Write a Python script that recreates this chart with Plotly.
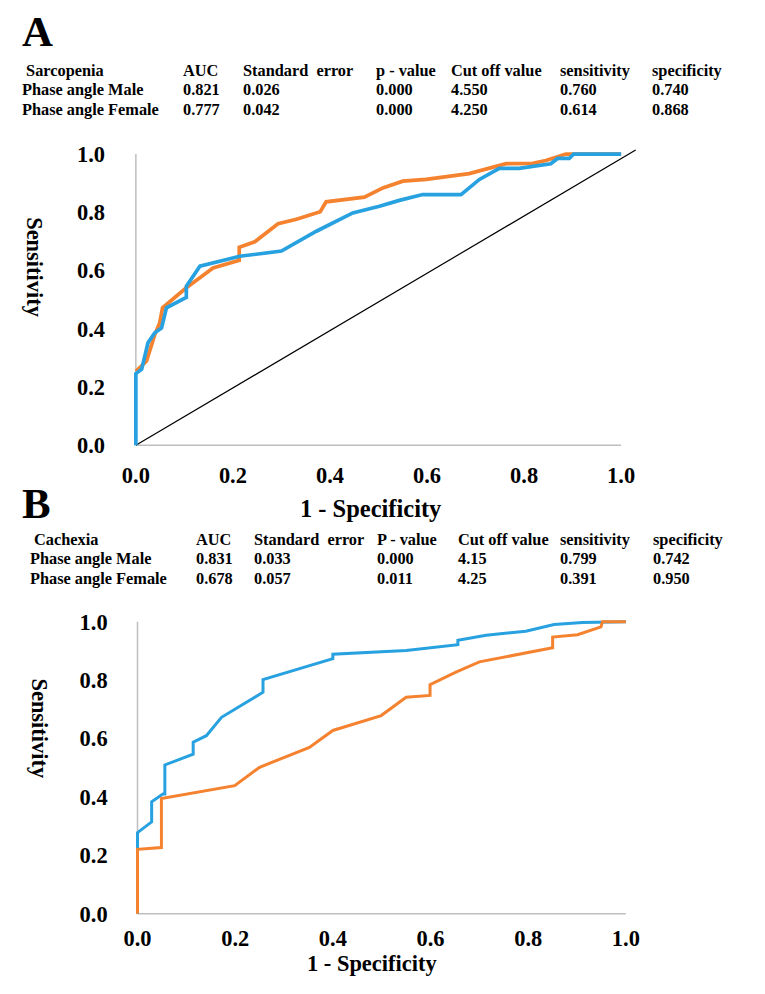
import plotly.graph_objects as go

# ---------------- data ----------------
# Panel A (Sarcopenia) ROC curves
a_male_x = [0, 0, 0.012, 0.025, 0.039, 0.053, 0.063, 0.104, 0.104, 0.132, 0.214, 0.300, 0.372, 0.447, 0.502, 0.543,
            0.591, 0.670, 0.708, 0.749, 0.790, 0.855, 0.869, 0.893, 0.902, 1.0]
a_male_y = [0, 0.246, 0.261, 0.352, 0.386, 0.403, 0.472, 0.508, 0.546, 0.615, 0.649, 0.667, 0.735, 0.798, 0.821, 0.841,
            0.861, 0.861, 0.913, 0.951, 0.951, 0.967, 0.985, 0.985, 1.0, 1.0]
a_female_x = [0, 0.022, 0.039, 0.049, 0.055, 0.063, 0.104, 0.132, 0.159, 0.213, 0.213, 0.245, 0.293, 0.331, 0.380,
              0.392, 0.471, 0.509, 0.550, 0.598, 0.687, 0.763, 0.818, 0.845, 0.886, 1.0]
a_female_y = [0.254, 0.289, 0.380, 0.420, 0.472, 0.483, 0.541, 0.575, 0.609, 0.635, 0.680, 0.699, 0.761, 0.776, 0.802,
              0.836, 0.852, 0.884, 0.907, 0.913, 0.933, 0.967, 0.968, 0.978, 1.0, 1.0]
a_ref_x = [0, 1.03]
a_ref_y = [0, 1.014]

# Panel B (Cachexia) ROC curves
b_male_x = [0, 0, 0.029, 0.029, 0.052, 0.056, 0.056, 0.114, 0.114, 0.141, 0.172, 0.257, 0.257, 0.400, 0.400, 0.550,
            0.656, 0.656, 0.714, 0.795, 0.853, 0.911, 1.0]
b_male_y = [0, 0.278, 0.315, 0.384, 0.410, 0.410, 0.510, 0.547, 0.588, 0.610, 0.673, 0.759, 0.802, 0.874, 0.889, 0.902,
            0.922, 0.937, 0.954, 0.968, 0.991, 0.998, 1.0]
b_female_x = [0, 0, 0.049, 0.049, 0.199, 0.250, 0.352, 0.400, 0.499, 0.550, 0.599, 0.599, 0.652, 0.700, 0.850, 0.850,
              0.901, 0.949, 0.952, 1.0]
b_female_y = [0, 0.221, 0.227, 0.395, 0.439, 0.502, 0.570, 0.628, 0.679, 0.742, 0.748, 0.785, 0.828, 0.863, 0.911,
              0.948, 0.956, 0.983, 1.0, 1.0]

tick_vals = [0, 0.2, 0.4, 0.6, 0.8, 1.0]
tick_text = ["0.0", "0.2", "0.4", "0.6", "0.8", "1.0"]

# Tables
a_header = [" Sarcopenia", "AUC", "Standard  error", "p - value", "Cut off value", "sensitivity", "specificity"]
a_row_male = ["Phase angle Male", "0.821", "0.026", "0.000", "4.550", "0.760", "0.740"]
a_row_female = ["Phase angle Female", "0.777", "0.042", "0.000", "4.250", "0.614", "0.868"]

b_header = [" Cachexia", "AUC", "Standard  error", "P - value", "Cut off value", "sensitivity", "specificity"]
b_row_male = ["Phase angle Male", "0.831", "0.033", "0.000", "4.15", "0.799", "0.742"]
b_row_female = ["Phase angle Female", "0.678", "0.057", "0.011", "4.25", "0.391", "0.950"]

# ---------------- style ----------------
W, H = 749, 978
OFF, SC = 16.0, 0.98         # observed page offset / scale of the rendered page
ORANGE = "#F5822F"
BLUE = "#27A1DF"
AXIS_GREY = "#BFBFBF"
SERIF = "Liberation Serif"


def fx(px):
    return ((px - OFF) / SC) / W


def fy(py):
    return 1 - ((py - OFF) / SC) / H


def fs(size):
    return size / SC


a_cols_px = [21, 182, 242, 375, 451, 560, 652]
b_cols_px = [29, 195, 253, 377, 458, 560, 653]
a_rows_py = [69, 88, 108]
b_rows_py = [538, 557, 577]

fig = go.Figure()

# Panel A traces
fig.add_trace(go.Scatter(x=a_ref_x, y=a_ref_y, mode="lines", line=dict(color="black", width=1.2),
                         xaxis="x", yaxis="y", showlegend=False, hoverinfo="skip"))
fig.add_trace(go.Scatter(x=a_female_x, y=a_female_y, mode="lines", name="Phase angle Female",
                         line=dict(color=ORANGE, width=3.7), xaxis="x", yaxis="y", showlegend=False))
fig.add_trace(go.Scatter(x=a_male_x, y=a_male_y, mode="lines", name="Phase angle Male",
                         line=dict(color=BLUE, width=3.7), xaxis="x", yaxis="y", showlegend=False))

# Panel B traces
fig.add_trace(go.Scatter(x=b_male_x, y=b_male_y, mode="lines", name="Phase angle Male",
                         line=dict(color=BLUE, width=3), xaxis="x2", yaxis="y2", showlegend=False))
fig.add_trace(go.Scatter(x=b_female_x, y=b_female_y, mode="lines", name="Phase angle Female",
                         line=dict(color=ORANGE, width=3), xaxis="x2", yaxis="y2", showlegend=False))

tickfont = dict(family=SERIF, size=fs(22), color="black", weight="bold")

axis_common = dict(showgrid=False, zeroline=False, showline=False, tickvals=tick_vals, ticktext=tick_text,
                   tickfont=tickfont, ticks="", fixedrange=True)

fig.update_layout(
    width=W, height=H,
    margin=dict(l=0, r=0, t=0, b=0),
    paper_bgcolor="white", plot_bgcolor="white",
    xaxis=dict(domain=[fx(130.2), fx(641.4)], range=[-0.012, 1.04], anchor="y",
               ticklabelstandoff=11, **axis_common),
    yaxis=dict(domain=[fy(446.9), fy(147.2)], range=[-0.01, 1.02], anchor="x",
               ticklabelstandoff=24, **axis_common),
    xaxis2=dict(domain=[fx(131.8), fx(632.6)], range=[-0.012, 1.012], anchor="y2",
                ticklabelstandoff=6, **axis_common),
    yaxis2=dict(domain=[fy(915.2), fy(617.0)], range=[-0.01, 1.012], anchor="x2",
                ticklabelstandoff=23, **axis_common),
)

# axis lines (grey), drawn at data 0 / 1
for xr, yr in (("x", "y"), ("x2", "y2")):
    fig.add_shape(type="line", xref=xr, yref=yr, x0=0, y0=0, x1=0, y1=1,
                  line=dict(color=AXIS_GREY, width=1.5), layer="below")
    fig.add_shape(type="line", xref=xr, yref=yr, x0=0, y0=0, x1=1, y1=0,
                  line=dict(color=AXIS_GREY, width=1.5), layer="below")


def ann(text, px, py, size=16, xanchor="left", angle=0):
    fig.add_annotation(text=text, x=fx(px), y=fy(py), xref="paper", yref="paper",
                       xanchor=xanchor, yanchor="middle", showarrow=False, textangle=angle,
                       borderpad=0,
                       font=dict(family=SERIF, size=fs(size), color="black", weight="bold"))


# panel letters
ann("A", 21, 30, size=42)
ann("B", 21, 502, size=42)

# tables
for cols, rows, data in ((a_cols_px, a_rows_py, [a_header, a_row_male, a_row_female]),
                         (b_cols_px, b_rows_py, [b_header, b_row_male, b_row_female])):
    for py, row in zip(rows, data):
        for px, cell in zip(cols, row):
            ann(cell.replace(" ", "&nbsp;") if "  " in cell or cell.startswith(" ") else cell, px, py, size=16)

# axis titles
ann("1 - Specificity", 371, 507, size=24, xanchor="center")
ann("1 - Specificity", 372, 962, size=22, xanchor="center")
ann("Sensitivity", 35, 266, size=22, xanchor="center", angle=90)
ann("Sensitivity", 40, 727, size=22, xanchor="center", angle=90)

fig.write_html("out.html")
